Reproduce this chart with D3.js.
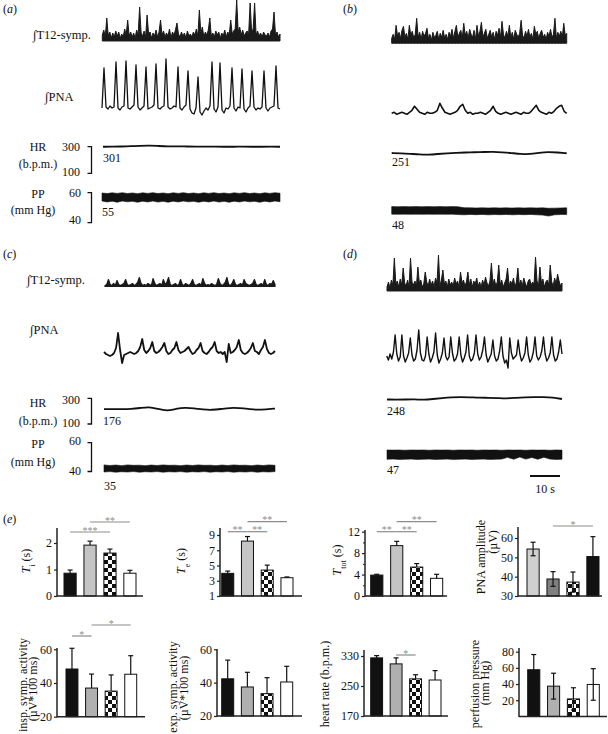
<!DOCTYPE html>
<html><head><meta charset="utf-8">
<script src="https://cdn.jsdelivr.net/npm/d3@7"></script>
<style>
body{margin:0;background:#fff}
svg{display:block}
text{font-family:"Liberation Serif","DejaVu Serif",serif;fill:#111}
</style>
</head><body><svg id="c" width="608" height="734"></svg>
<script>
// ---------- trace data (px-like units above baseline) ----------
const t12A = [6,11,4,23,5,9,3,8,4,10, 5,9,3,7,4,12,6,21,5,9, 4,8,3,11,6,34,8,5,10,4, 26,7,9,3,8,5,11,4,9,21,
  6,10,4,8,5,12,3,9,6,11, 18,7,4,9,5,8,3,10,5,7, 4,9,6,12,5,31,8,14,4,9, 6,11,23,5,8,4,10,6,9,3,
  8,5,11,4,9,6,21,7,10,12, 41,9,14,6,11,5,8,10,7,38, 9,12,38,6,10,5,8,4,9,6, 5,8,4,10,12,29,6,9,4,7];
const pnaA = [2,42,3,1,4,2,3,48,2,0, 3,4,49,2,1,3,5,45,3,0, 2,4,43,1,2,3,5,46,2,1, 3,4,51,3,1,2,4,3,43,2,
  0,3,5,39,1,-3,-4,2,33,-2, -5,-1,2,0,4,48,1,-2,3,47, 0,-3,2,1,4,42,2,-1,3,2, 41,1,-2,2,4,39,3,0,2,1,
  3,39,2,-1,2,3,4,44,2,1];
const hrA = [302,303,304,306,310,312,308,305,306,304,303,304,303,302,302,303,302,302,303,302];
const ppUpA = [59.8,59.4,59.9,59.5,60.0,59.4,59.8,59.3,59.9,59.5,60.0,59.4,59.8,59.3,59.9,59.5,60.0,59.4,
  59.8,59.3,59.9,59.5,60.0,59.4,59.8,59.3,59.9,59.5,60.0,59.4,59.8,59.3,59.9,59.5,60.0,59.6];
const ppLoA = [53.9,53.2,53.8,53.0,53.9,53.3,53.7,53.0,53.8,53.2,53.9,53.1,53.7,53.0,53.8,53.2,53.9,53.3,
  53.7,53.0,53.8,53.2,53.9,53.1,53.7,53.0,53.8,53.2,53.9,53.3,53.7,53.0,53.8,53.2,53.9,53.4];

const t12B = [5,9,4,18,7,11,5,13,17,6, 10,4,18,8,12,5,9,25,6,11, 4,12,7,10,15,5,9,3,11,6, 8,12,4,10,6,13,5,9,4,11,
  7,14,5,12,18,6,10,13,5,20, 8,12,5,14,9,6,13,4,18,7, 12,21,6,10,14,5,9,13,6,11, 4,12,8,15,6,22,9,5,12,7,
  18,6,11,4,13,9,6,10,23,8, 5,12,7,14,6,10,4,17,9,12, 5,10,13,6,9,4,11,7,14,6, 9,25,5,11,7,12,6,20,8,10];
const pnaB = [0,1,-1,0,1,0,-1,1,3,7, 4,1,0,-1,1,0,0,1,3,10, 5,1,0,-1,0,1,3,7,9,3, 0,1,-1,0,0,1,0,-1,1,3,
  7,2,0,-1,0,1,0,-1,0,1, 0,-1,1,0,0,2,5,8,3,1, 0,-1,1,0,2,5,7,8,2,0];
const hrB = [252,250,246,240,238,244,250,254,256,258,260,262,258,252,244,242,254,262,256,250];
const ppUpB = [49.8,49.7,49.8,49.7,49.8,49.7,49.8,49.7,49.8,49.7,49.8,49.7,49.0,48.9,48.8,48.9,48.8,48.9,
  48.8,48.9,48.8,48.9,48.8,48.9,48.8,48.9,48.6,48.7,48.8,48.9];
const ppLoB = [44.3,44.2,44.3,44.2,44.3,44.2,44.3,44.2,44.3,44.2,44.3,44.0,43.8,44.1,43.9,44.1,43.8,44.0,
  43.9,44.1,43.8,44.0,43.9,44.1,43.8,43.6,42.9,43.8,44.0,44.1];

const t12C = [1,2,7,2,1,3,1,6,2,1, 2,3,7,2,1,2,3,1,2,4, 9,3,1,2,1,3,2,1,8,3, 1,2,3,1,7,2,4,9,2,1,
  2,3,1,2,7,2,1,3,2,1, 3,7,2,1,2,3,1,8,3,1, 2,1,3,2,1,2,8,3,1,2, 4,9,2,1,3,7,2,1,2,3,
  1,7,3,2,1,2,3,7,2,1, 2,3,1,7,2,1,3,2,6,2];
const pnaC = [4,2,1,0,1,3,8,23,6,-7, 1,2,3,4,3,2,3,5,9,17, 6,3,5,8,14,5,3,4,6,9, 13,5,2,3,6,8,14,6,3,4,
  5,7,9,5,2,3,6,8,13,5, 3,2,4,7,9,14,5,3,4,2, 4,-6,12,3,4,6,9,16,6,3, 2,3,5,8,13,5,4,2,6,9,
  16,7,3,2,3,5];
const hrC = [214,214,213,214,222,233,215,198,216,226,220,210,206,214,224,222,216,206,212,218];
const ppUpC = [44.2,43.8,44.1,43.7,44.2,43.9,44.0,43.7,44.1,43.8,44.2,43.9,44.0,43.7,44.1,43.8,44.2,43.9,
  44.0,43.7,44.1,43.8,44.2,43.9,44.0,43.7,44.1,43.8,44.2,43.9];
const ppLoC = [39.3,39.6,39.2,39.5,39.3,39.6,39.2,39.5,39.3,39.6,39.2,39.5,39.3,39.6,39.2,39.5,39.3,39.6,
  39.2,39.5,39.3,39.6,39.2,39.5,39.3,39.6,39.2,39.5,39.3,39.6];

const t12D = [4,9,3,11,6,33,7,10,4,12, 6,23,8,5,11,4,33,9,6,10, 5,24,8,11,4,7,19,9,5,12, 6,10,4,13,8,36,5,11,21,7,
  10,4,12,6,9,5,13,7,10,4, 19,8,11,5,9,19,6,12,4,10, 7,13,5,9,4,11,6,14,8,5, 10,28,7,12,5,9,26,6,11,4,
  8,12,23,5,10,7,13,4,9,23, 6,11,5,13,8,4,10,12,6,9, 7,34,10,5,24,8,12,4,9,11, 6,26,9,5,13,7,17,10,5,8];
const pnaD = [6,2,8,3,10,27,8,1,5,27, 6,0,4,9,24,7,1,3,12,32, 9,2,1,6,25,8,0,4,10,29, 7,-1,3,9,24,6,2,5,25,9,
  1,3,8,25,7,0,4,10,27,6, 1,3,9,27,8,2,5,12,25,7, 0,4,8,22,6,1,3,11,25,6, -1,2,-6,24,9,3,5,7,22,8,
  1,4,9,25,7,0,3,10,25,6, 2,5,11,25,8,1,4,9,25,7, 1,3,10,22,8];
const hrD = [292,290,292,294,288,296,304,310,312,310,306,306,304,300,306,310,312,312,308,296];
const ppUpD = [54.5,54.4,54.5,54.3,54.5,54.4,54.5,54.3,54.5,54.4,54.5,54.3,54.5,54.4,54.5,54.3,54.5,54.4,
  54.5,54.3,54.5,54.4,54.5,54.3,54.5,54.4,54.5,54.3,54.5,54.4];
const ppLoD = [48.1,48.2,48.0,48.1,48.2,48.0,48.1,48.2,48.0,48.1,48.2,48.0,48.1,48.2,48.0,48.1,48.2,48.0,
  48.1,48.2,49.4,48.1,49.6,48.2,49.3,48.1,49.5,48.2,48.0,48.1];

const hrLabels = ["301","251","176","248"];
const ppLabels = ["55","48","35","47"];

// ---------- bar chart data ----------
const conditions = ["1","2","3","4"];
const tiMean = [0.86, 1.92, 1.62, 0.86], tiErr = [0.12, 0.15, 0.15, 0.11];
const teMean = [3.97, 8.2, 4.4, 3.4],   teErr = [0.3, 0.6, 0.65, 0.1];
const ttotMean = [3.9, 9.4, 5.4, 3.3],  ttotErr = [0.15, 0.8, 0.65, 0.75];
const pnaMean = [54.3, 38.8, 37.2, 50.4], pnaErr = [3.5, 3.8, 5.2, 10.3];
const inspMean = [48.3, 37, 35.2, 45.2],  inspErr = [12.3, 8.3, 9.6, 11];
const expMean = [42.3, 37.4, 33.4, 40.4], expErr = [11.2, 8.8, 9.6, 9.4];
const hrMean = [325, 309, 269, 266],      hrErr = [6, 16, 11, 25];
const ppMean = [57.7, 37.4, 21.6, 39.5],  ppErr = [18.8, 16, 13.8, 19.5];
const tiTicks = [0,1,2], teTicks = [1,3,5,7,9], ttotTicks = [0,4,8,12], pnaTicks = [30,40,50,60];
const inspTicks = [20,40,60], expTicks = [20,40,60], hrTicks = [170,250,330], ppTicks = [20,40,60,80];

// ---------- drawing ----------
const svg = d3.select('#c');
const defs = svg.append('defs');
const pat = defs.append('pattern').attr('id','checker').attr('patternUnits','userSpaceOnUse')
  .attr('width',8).attr('height',8);
pat.append('rect').attr('width',8).attr('height',8).attr('fill','#fff');
pat.append('rect').attr('width',4).attr('height',4).attr('fill','#111');
pat.append('rect').attr('x',4).attr('y',4).attr('width',4).attr('height',4).attr('fill','#111');

function txt(x, y, s, opt={}) {
  const t = svg.append('text').attr('x',x).attr('y',y).attr('font-size',opt.size||12)
    .attr('text-anchor',opt.anchor||'start').text(s);
  if (opt.fill) t.style('fill',opt.fill);
  return t;
}
function panelLabel(x, y, l) {
  const t = svg.append('text').attr('x',x).attr('y',y).attr('font-size',12);
  t.append('tspan').text('(');
  t.append('tspan').attr('font-style','italic').text(l);
  t.append('tspan').text(')');
}
function lineTrace(vals, x0, x1, base, sw) {
  const x = d3.scaleLinear().domain([0, vals.length-1]).range([x0, x1]);
  const y = d3.scaleLinear().domain([0, 10]).range([base, base-10]);
  svg.append('path').attr('d', d3.line().x((d,i)=>x(i)).y(d=>y(d))(vals))
    .attr('fill','none').attr('stroke','#111').attr('stroke-width',sw).attr('stroke-linejoin','round');
}
function bandTrace(vals, x0, x1, base, sw) {
  const x = d3.scaleLinear().domain([0, vals.length-1]).range([x0, x1]);
  const y = d3.scaleLinear().domain([0, 10]).range([base, base-10]);
  svg.append('path').attr('d', d3.area().x((d,i)=>x(i)).y0(y(0)).y1(d=>y(d))(vals))
    .attr('fill','#1a1a1a').attr('stroke','#1a1a1a').attr('stroke-width',sw).attr('stroke-linejoin','round');
}
function hrTrace(vals, x0, x1, yS) {
  const x = d3.scaleLinear().domain([0, vals.length-1]).range([x0, x1]);
  svg.append('path').attr('d', d3.line().curve(d3.curveBasis).x((d,i)=>x(i)).y(d=>yS(d))(vals))
    .attr('fill','none').attr('stroke','#111').attr('stroke-width',1.8);
}
function ppTrace(up, lo, x0, x1, yS) {
  const x = d3.scaleLinear().domain([0, up.length-1]).range([x0, x1]);
  svg.append('path').attr('d', d3.area().x((d,i)=>x(i)).y0((d,i)=>yS(lo[i])).y1(d=>yS(d))(up))
    .attr('fill','#111').attr('stroke','#111').attr('stroke-width',0.6);
}
function bracket(x, yTop, yBot) {
  svg.append('path').attr('d',`M${x-4},${yTop}H${x}V${yBot}H${x-4}`)
    .attr('fill','none').attr('stroke','#111').attr('stroke-width',1.3);
}

// row scales
const hrS1 = d3.scaleLinear().domain([100,300]).range([172,147]);
const ppS1 = d3.scaleLinear().domain([40,60]).range([220,192.7]);
const hrS2 = d3.scaleLinear().domain([100,300]).range([423,398.5]);
const ppS2 = d3.scaleLinear().domain([40,60]).range([471,442]);

// panel (a)
panelLabel(3, 13, 'a');
txt(33, 39, '\u222BT12-symp.', {size:12.5});
txt(45, 101, '\u222BPNA', {size:12.5});
bandTrace(t12A, 102.3, 280, 41, 1);
lineTrace(pnaA, 102, 280, 110, 1.3);
hrTrace(hrA, 103, 280, hrS1);
ppTrace(ppUpA, ppLoA, 102, 280, ppS1);
txt(38, 150.5, 'HR', {anchor:'middle'}); txt(38, 168, '(b.p.m.)', {anchor:'middle'});
txt(80, 150.5, '300', {anchor:'end'}); txt(80, 175.5, '100', {anchor:'end'});
bracket(91.5, 146.7, 173.3);
txt(38, 198, 'PP', {anchor:'middle'}); txt(33, 214, '(mm Hg)', {anchor:'middle'});
txt(81, 196.5, '60', {anchor:'end'}); txt(81, 224, '40', {anchor:'end'});
bracket(91.5, 192.7, 222.7);
txt(103, 162, hrLabels[0]); txt(102, 216, ppLabels[0]);

// panel (b)
panelLabel(343, 13, 'b');
bandTrace(t12B, 391.7, 566.7, 43.3, 1);
lineTrace(pnaB, 391.7, 566.7, 113.3, 1.6);
hrTrace(hrB, 391.7, 566.7, hrS1);
ppTrace(ppUpB, ppLoB, 391.7, 566.7, ppS1);
txt(392, 166, hrLabels[1]); txt(392, 229, ppLabels[1]);

// panel (c)
panelLabel(3, 258, 'c');
txt(27, 284, '\u222BT12-symp.', {size:12.5});
txt(30, 334, '\u222BPNA', {size:12.5});
bandTrace(t12C, 105, 275, 286.5, 1.2);
lineTrace(pnaC, 104, 275, 356, 1.8);
hrTrace(hrC, 104, 275, hrS2);
ppTrace(ppUpC, ppLoC, 104, 275, ppS2);
txt(38, 407, 'HR', {anchor:'middle'}); txt(38, 425, '(b.p.m.)', {anchor:'middle'});
txt(80, 403.5, '300', {anchor:'end'}); txt(80, 426.5, '100', {anchor:'end'});
bracket(91.5, 398.3, 424);
txt(38, 448, 'PP', {anchor:'middle'}); txt(33, 466, '(mm Hg)', {anchor:'middle'});
txt(81, 445, '60', {anchor:'end'}); txt(81, 475, '40', {anchor:'end'});
bracket(91.5, 442.7, 471.5);
txt(103, 425, hrLabels[2]); txt(104, 490, ppLabels[2]);

// panel (d)
panelLabel(343, 258, 'd');
bandTrace(t12D, 387, 562, 291, 1);
lineTrace(pnaD, 386.7, 562, 362, 1.4);
hrTrace(hrD, 387, 562, hrS2);
ppTrace(ppUpD, ppLoD, 387, 562, ppS2);
txt(387, 415, hrLabels[3]); txt(387, 474, ppLabels[3]);
// 10 s scale bar (≈30 px)
svg.append('line').attr('x1',530).attr('x2',560).attr('y1',476).attr('y2',476).attr('stroke','#111').attr('stroke-width',2);
txt(545, 493, '10 s', {anchor:'middle'});

// panel (e)
panelLabel(3, 523, 'e');

const fillsA = ['#111','#c4c4c4','url(#checker)','#fff'];
const fillsB = ['#111','#b0b0b0','url(#checker)','#fff'];
const fillsPNA = ['#d0d0d0','#7f7f7f','url(#checker)','#111'];

function barChart(c) {
  const y = d3.scaleLinear().domain(c.dom).range(c.rng);
  const x = d3.scaleBand().domain(conditions).range(c.bx).paddingInner(0.39).paddingOuter(0);
  const base = y(c.base);
  const g = svg.append('g');
  g.selectAll('rect').data(c.mean).join('rect')
    .attr('x',(d,i)=>x(conditions[i])).attr('y',d=>y(d))
    .attr('width',x.bandwidth()).attr('height',d=>base-y(d))
    .attr('fill',(d,i)=>c.fills[i]).attr('stroke','#111').attr('stroke-width',1);
  c.mean.forEach((m,i)=>{
    const cx = x(conditions[i]) + x.bandwidth()/2;
    const top = y(m + c.err[i]);
    const bot = c.two ? y(m - c.err[i]) : y(m);
    g.append('line').attr('x1',cx).attr('x2',cx).attr('y1',top).attr('y2',bot).attr('stroke','#111').attr('stroke-width',1.2);
    g.append('line').attr('x1',cx-2.5).attr('x2',cx+2.5).attr('y1',top).attr('y2',top).attr('stroke','#111').attr('stroke-width',1.2);
    if (c.two) g.append('line').attr('x1',cx-2.5).attr('x2',cx+2.5).attr('y1',bot).attr('y2',bot).attr('stroke','#111').attr('stroke-width',1.2);
  });
  // axes
  const ag = g.append('g').attr('transform',`translate(${c.ax},0)`)
    .call(d3.axisLeft(y).tickValues(c.ticks).tickFormat(d3.format('d')).tickSize(3).tickPadding(2));
  ag.attr('font-family',null).attr('font-size',null);
  ag.select('.domain').remove();
  ag.selectAll('line').attr('stroke','#222').attr('stroke-width',1.2);
  ag.selectAll('text').attr('font-size',12).style('fill','#111');
  if (c.minor) {
    g.append('g').attr('transform',`translate(${c.ax},0)`)
      .call(d3.axisLeft(y).tickValues(c.minor).tickSize(2).tickFormat(''))
      .call(s=>{s.select('.domain').remove(); s.selectAll('line').attr('stroke','#222');});
  }
  g.append('line').attr('x1',c.ax).attr('x2',c.ax).attr('y1',base+0.6).attr('y2',c.top).attr('stroke','#222').attr('stroke-width',1.5);
  g.append('line').attr('x1',c.ax).attr('x2',c.xEnd).attr('y1',base).attr('y2',base).attr('stroke','#222').attr('stroke-width',1.5);
  // significance
  (c.sig||[]).forEach(s=>{
    const xa = x(conditions[s[0]]) + x.bandwidth()/2, xb = x(conditions[s[1]]) + x.bandwidth()/2;
    g.append('line').attr('x1',xa).attr('x2',xb).attr('y1',s[3]).attr('y2',s[3]).attr('stroke','#8c8c8c').attr('stroke-width',1.2);
    g.append('text').attr('x',(xa+xb)/2).attr('y',s[3]+1.5).attr('text-anchor','middle')
      .attr('font-size',10).style('fill','#8c8c8c').text(s[2]);
  });
  // y label
  c.labels.forEach(l=>{
    const t = g.append('text').attr('transform',`translate(${l[0]},${l[1]}) rotate(-90)`)
      .attr('text-anchor','middle').attr('font-size',12);
    if (Array.isArray(l[2])) {
      l[2].forEach(p=>{
        const ts = t.append('tspan').text(p.t);
        if (p.i) ts.attr('font-style','italic');
        if (p.sub) ts.attr('baseline-shift','sub').attr('font-size',8);
      });
    } else t.text(l[2]);
  });
}

barChart({mean:tiMean, err:tiErr, dom:[0,2], rng:[596,543], base:0, bx:[64,136], ax:57, top:528, xEnd:143,
  ticks:tiTicks, fills:fillsA, sig:[[0,2,'***',532],[1,3,'**',522]],
  labels:[[30,561,[{t:'T',i:true},{t:'i',sub:true},{t:' (s)'}]]]});
barChart({mean:teMean, err:teErr, dom:[1,9], rng:[596,535], base:1, bx:[221.7,293], ax:220, top:528, xEnd:302,
  ticks:teTicks, fills:fillsA, sig:[[0,1,'**',531.7],[1,2,'**',531.7],[1,3,'**',521.7]],
  labels:[[185,561,[{t:'T',i:true},{t:'e',sub:true},{t:' (s)'}]]]});
barChart({mean:ttotMean, err:ttotErr, dom:[0,12], rng:[596,531.7], base:0, bx:[370.7,442.7], ax:365, top:530, xEnd:447,
  ticks:ttotTicks, minor:[2,6,10], fills:fillsA, sig:[[0,1,'**',531.7],[1,2,'**',531.7],[1,3,'**',521.7]],
  labels:[[341,560,[{t:'T',i:true},{t:'tot',sub:true},{t:' (s)'}]]]});
barChart({mean:pnaMean, err:pnaErr, dom:[30,60], rng:[596,538], base:30, bx:[527,599], ax:518, top:527, xEnd:602,
  ticks:pnaTicks, fills:fillsPNA, two:true, sig:[[1,3,'*',526]],
  labels:[[485,557,'PNA amplitude'],[497,542,'(\u00B5V)']]});

barChart({mean:inspMean, err:inspErr, dom:[20,60], rng:[716.7,649.3], base:20, bx:[66,136.7], ax:57, top:648, xEnd:145,
  ticks:inspTicks, fills:fillsB, sig:[[0,1,'*',636],[1,3,'*',625]],
  labels:[[27,685,'insp. symp. activity'],[37,689,'(\u00B5V*100 ms)']]});
barChart({mean:expMean, err:expErr, dom:[20,60], rng:[716,649.3], base:20, bx:[221.7,292.7], ax:217, top:649, xEnd:302,
  ticks:expTicks, fills:fillsB,
  labels:[[177,687,'exp. symp. activity'],[188,688,'(\u00B5V*100 ms)']]});
barChart({mean:hrMean, err:hrErr, dom:[170,330], rng:[716,656], base:170, bx:[370.7,441], ax:364, top:650, xEnd:448,
  ticks:hrTicks, fills:fillsB, sig:[[1,2,'*',655]],
  labels:[[329,684,'heart rate (b.p.m.)']]});
barChart({mean:ppMean, err:ppErr, dom:[0,80], rng:[716.4,651.7], base:0, bx:[527.7,599.3], ax:519, top:648, xEnd:607,
  ticks:ppTicks, fills:fillsB, two:true,
  labels:[[479,684,'perfusion pressure'],[489,683,'(mm Hg)']]});
</script></body></html>
